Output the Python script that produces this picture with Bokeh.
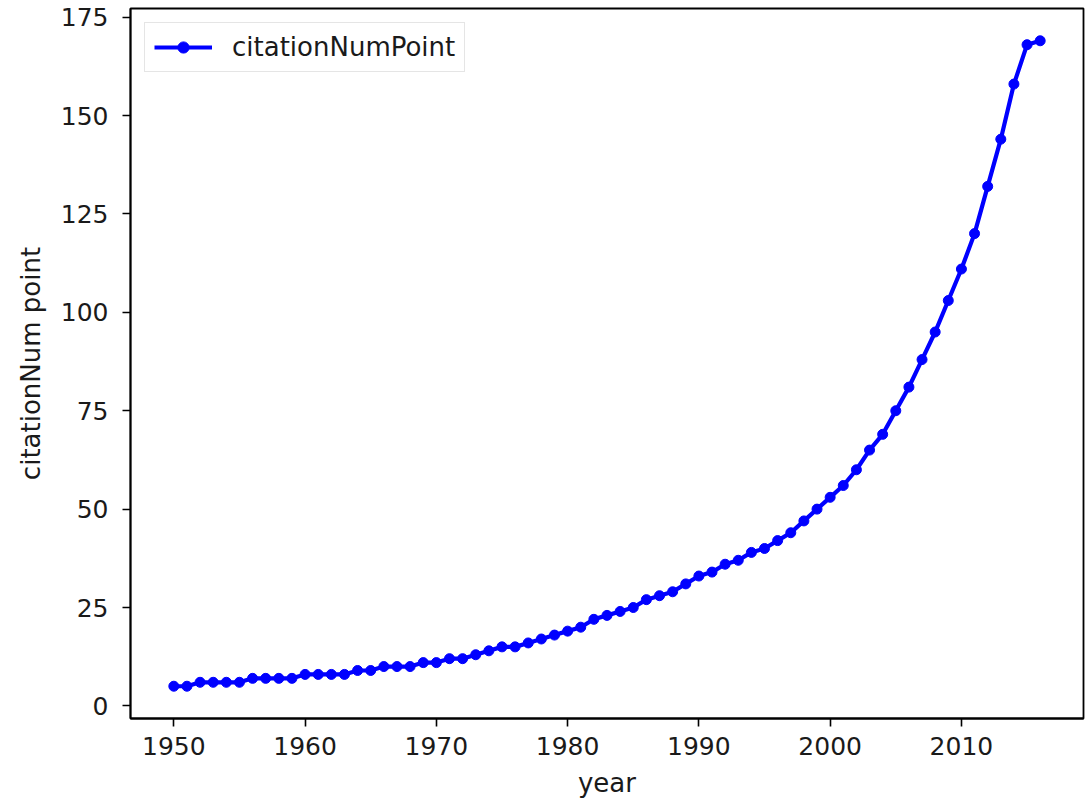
from bokeh.plotting import figure
from bokeh.models import Range1d, FixedTicker, Legend, LegendItem
from bokeh.embed import file_html
from bokeh.resources import INLINE

# Yearly citation counts
years = list(range(1950, 2017))
citation_num_point = [
    5, 5, 6, 6, 6, 6, 7, 7, 7, 7,          # 1950-1959
    8, 8, 8, 8, 9, 9, 10, 10, 10, 11,      # 1960-1969
    11, 12, 12, 13, 14, 15, 15, 16, 17, 18,  # 1970-1979
    19, 20, 22, 23, 24, 25, 27, 28, 29, 31,  # 1980-1989
    33, 34, 36, 37, 39, 40, 42, 44, 47, 50,  # 1990-1999
    53, 56, 60, 65, 69, 75, 81, 88, 95, 103,  # 2000-2009
    111, 120, 132, 144, 158, 168, 169,     # 2010-2016
]
x_ticks = [1950, 1960, 1970, 1980, 1990, 2000, 2010]
y_ticks = [0, 25, 50, 75, 100, 125, 150, 175]

FONT = "DejaVu Sans"
TICK_FS = "25px"
LABEL_FS = "26px"
TEXT_COLOR = "#1a1a1a"

p = figure(
    width=1091, height=801,
    output_backend="svg", toolbar_location=None,
    x_range=Range1d(1946.7, 2019.3),
    y_range=Range1d(-3.2, 177.2),
    min_border_left=130, min_border_right=8,
    min_border_top=8, min_border_bottom=83,
)
p.background_fill_color = "white"
p.border_fill_color = "white"
p.outline_line_color = "black"
p.outline_line_width = 1.8
p.xgrid.visible = False
p.ygrid.visible = False

line = p.line(years, citation_num_point, line_color="blue", line_width=4.2)
dots = p.scatter(years, citation_num_point, marker="circle", size=10,
                 fill_color="blue", line_color="blue")

p.xaxis.ticker = FixedTicker(ticks=x_ticks)
p.yaxis.ticker = FixedTicker(ticks=y_ticks)
p.xaxis.axis_label = "year"
p.yaxis.axis_label = "citationNum point"

for ax in (p.xaxis, p.yaxis):
    ax.axis_line_color = "black"
    ax.axis_line_width = 1.8
    ax.major_tick_line_color = "black"
    ax.major_tick_line_width = 1.6
    ax.major_tick_out = 8
    ax.major_tick_in = 0
    ax.minor_tick_out = 0
    ax.minor_tick_in = 0
    ax.major_label_text_font = FONT
    ax.major_label_text_font_size = TICK_FS
    ax.major_label_text_color = TEXT_COLOR
    ax.axis_label_text_font = FONT
    ax.axis_label_text_font_size = LABEL_FS
    ax.axis_label_text_font_style = "normal"
    ax.axis_label_text_color = TEXT_COLOR

p.xaxis.major_label_standoff = 10
p.yaxis.major_label_standoff = 14
p.xaxis.axis_label_standoff = 10
p.yaxis.axis_label_standoff = 12

legend = Legend(
    items=[LegendItem(label="citationNumPoint", renderers=[line, dots])],
    location="top_left",
    margin=14,
    padding=9,
    spacing=0,
    glyph_width=58,
    glyph_height=28,
    label_height=28,
    label_standoff=20,
    label_text_font=FONT,
    label_text_font_size=LABEL_FS,
    label_text_color=TEXT_COLOR,
    border_line_color="#cccccc",
    border_line_width=1.5,
    background_fill_color="white",
    background_fill_alpha=0.8,
)
p.add_layout(legend)

open("out.html", "w").write(file_html(p, INLINE))
